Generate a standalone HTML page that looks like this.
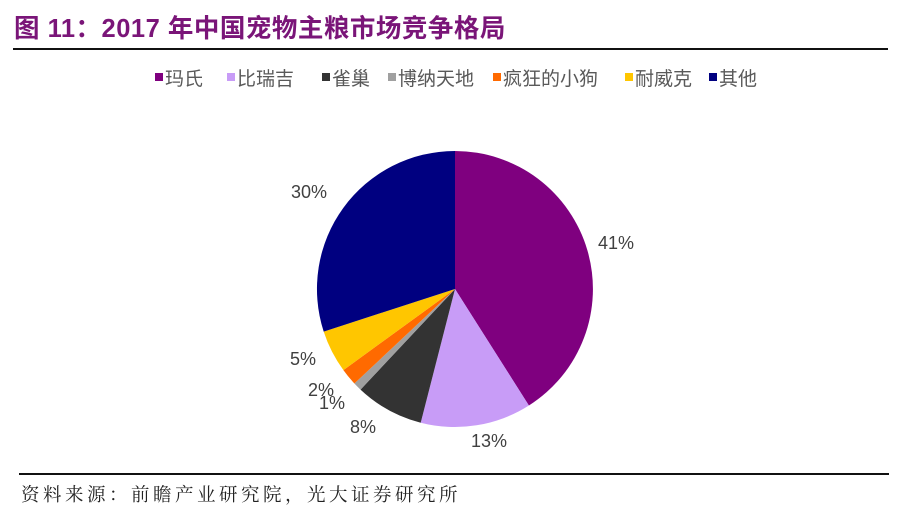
<!DOCTYPE html>
<html><head><meta charset="utf-8"><style>
body{margin:0;background:#fff;}
.wrap{position:relative;width:900px;height:514px;overflow:hidden;background:#fff;}
.title{position:absolute;left:14px;top:8px;font:bold 25.5px "Liberation Sans","Noto Sans CJK SC",sans-serif;color:#7a1578;letter-spacing:0.5px;}
.src{position:absolute;left:21px;top:481px;font:18.5px "Liberation Serif","Noto Serif CJK SC",serif;color:#222;letter-spacing:3.5px;}
</style></head><body><div class="wrap">
<div class="title">图 11：2017 年中国宠物主粮市场竞争格局</div>
<div style="position:absolute;left:13px;top:48px;width:875px;height:2px;background:#111"></div>
<div style="position:absolute;left:19px;top:473px;width:870px;height:2px;background:#111"></div>
<svg width="900" height="514" style="position:absolute;left:0;top:0" font-family="Liberation Sans,Noto Sans CJK SC,sans-serif">
<g font-size="19" fill="#595959">
<rect x="155" y="73" width="8" height="8" fill="#7f007f"/><text x="165" y="85">玛氏</text>
<rect x="227" y="73" width="8" height="8" fill="#c89cf7"/><text x="237" y="85">比瑞吉</text>
<rect x="322" y="73" width="8" height="8" fill="#333"/><text x="332" y="85">雀巢</text>
<rect x="388" y="73" width="8" height="8" fill="#a0a0a0"/><text x="398" y="85">博纳天地</text>
<rect x="493" y="73" width="8" height="8" fill="#ff6a00"/><text x="503" y="85">疯狂的小狗</text>
<rect x="625" y="73" width="8" height="8" fill="#ffc600"/><text x="635" y="85">耐威克</text>
<rect x="709" y="73" width="8" height="8" fill="#000080"/><text x="719" y="85">其他</text>
</g>
<path d="M455,289 L455,151 A138,138 0 0,1 528.9,405.5 Z" fill="#7f007f"/>
<path d="M455,289 L528.9,405.5 A138,138 0 0,1 420.7,422.7 Z" fill="#c89cf7"/>
<path d="M455,289 L420.7,422.7 A138,138 0 0,1 360.5,389.6 Z" fill="#333333"/>
<path d="M455,289 L360.5,389.6 A138,138 0 0,1 354.4,383.5 Z" fill="#a0a0a0"/>
<path d="M455,289 L354.4,383.5 A138,138 0 0,1 343.4,370.1 Z" fill="#ff6a00"/>
<path d="M455,289 L343.4,370.1 A138,138 0 0,1 323.7,331.6 Z" fill="#ffc600"/>
<path d="M455,289 L323.7,331.6 A138,138 0 0,1 455,151 Z" fill="#000080"/>
<g font-size="18" fill="#404040">
<text x="598" y="249">41%</text>
<text x="471" y="447">13%</text>
<text x="350" y="433">8%</text>
<text x="319" y="409">1%</text>
<text x="308" y="396">2%</text>
<text x="290" y="365">5%</text>
<text x="291" y="198">30%</text>
</g>
</svg>
<div class="src">资料来源：前瞻产业研究院，光大证券研究所</div>
</div></body></html>
